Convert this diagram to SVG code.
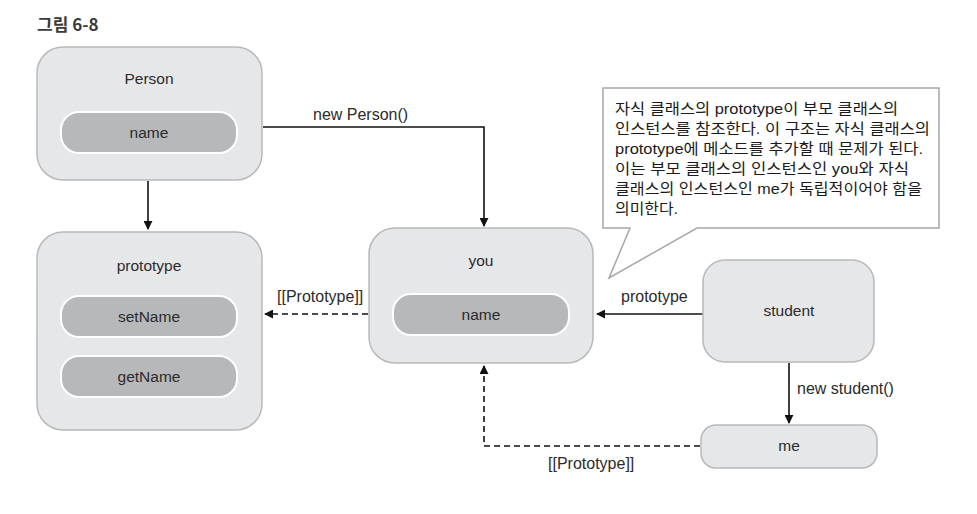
<svg xmlns="http://www.w3.org/2000/svg" width="977" height="514" viewBox="0 0 977 514">
<style>
.box{fill:#e6e7e8;stroke:#b8b9bb;stroke-width:1.5}
.pill{fill:#b7b8ba;stroke:#ffffff;stroke-width:2}
.t{font-family:"Liberation Sans",Arial,sans-serif;font-size:15.5px;fill:#2b2b2b;text-anchor:middle}
.lbl{font-family:"Liberation Sans",Arial,sans-serif;font-size:16px;fill:#2b2b2b}
.ln{fill:none;stroke:#111;stroke-width:1.6}
.dash{stroke-dasharray:6 4}
.kr{font-family:"Liberation Sans","Noto Sans CJK KR",sans-serif;font-size:15px;fill:#1a1a1a}
</style>
<defs>
<marker id="ah" viewBox="0 0 10 10" refX="9" refY="5" markerWidth="9" markerHeight="9" markerUnits="userSpaceOnUse" orient="auto">
<path d="M0,0 L10,5 L0,10 z" fill="#111"/>
</marker>
</defs>
<text x="37" y="31" style="font-family:'Noto Sans CJK KR','Liberation Sans',sans-serif;font-size:17px;font-weight:bold;fill:#3a3a3a">그림 6-8</text>

<g id="connectors">
<path class="ln" d="M148,181 V229" marker-end="url(#ah)"/>
<path class="ln" d="M263,127 H484 V226" marker-end="url(#ah)"/>
<text class="lbl" x="313" y="120">new Person()</text>
<path class="ln dash" d="M368,314 H265" marker-end="url(#ah)"/>
<text class="lbl" x="277" y="302">[[Prototype]]</text>
<path class="ln" d="M703,314 H597" marker-end="url(#ah)"/>
<text class="lbl" x="621" y="302">prototype</text>
<path class="ln" d="M789,363 V423" marker-end="url(#ah)"/>
<text class="lbl" x="797" y="394">new student()</text>
<path class="ln dash" d="M700,446 H484 V366" marker-end="url(#ah)"/>
<text class="lbl" x="548" y="469">[[Prototype]]</text>
</g>

<g id="person">
<rect class="box" x="37" y="47" width="225" height="133" rx="26"/>
<text class="t" x="149" y="84">Person</text>
<rect class="pill" x="61" y="112" width="176" height="41" rx="18"/>
<text class="t" x="149" y="138">name</text>
</g>

<g id="prototype">
<rect class="box" x="37" y="232" width="225" height="198" rx="26"/>
<text class="t" x="149" y="271">prototype</text>
<rect class="pill" x="61" y="296" width="176" height="41" rx="18"/>
<text class="t" x="149" y="322">setName</text>
<rect class="pill" x="61" y="356" width="176" height="41" rx="18"/>
<text class="t" x="149" y="382">getName</text>
</g>

<g id="you">
<rect class="box" x="369" y="228" width="224" height="135" rx="26"/>
<text class="t" x="481" y="266">you</text>
<rect class="pill" x="393" y="294" width="176" height="41" rx="18"/>
<text class="t" x="481" y="320">name</text>
</g>

<g id="student">
<rect class="box" x="703" y="260" width="171" height="102" rx="22"/>
<text class="t" x="789" y="316">student</text>
</g>

<g id="me">
<rect class="box" x="701" y="425" width="176" height="43" rx="15"/>
<text class="t" x="789" y="451">me</text>
</g>

<g id="callout">
<path d="M603,88 H939 V228 H697 L609,278 L630,228 H603 Z" fill="#ffffff" stroke="#a6a7a9" stroke-width="1.5"/>
<text class="kr" x="615" y="114" textLength="283" lengthAdjust="spacingAndGlyphs">자식 클래스의 prototype이 부모 클래스의</text>
<text class="kr" x="615" y="134" textLength="315" lengthAdjust="spacingAndGlyphs">인스턴스를 참조한다. 이 구조는 자식 클래스의</text>
<text class="kr" x="615" y="154" textLength="308" lengthAdjust="spacingAndGlyphs">prototype에 메소드를 추가할 때 문제가 된다.</text>
<text class="kr" x="615" y="174" textLength="294" lengthAdjust="spacingAndGlyphs">이는 부모 클래스의 인스턴스인 you와 자식</text>
<text class="kr" x="615" y="194" textLength="307" lengthAdjust="spacingAndGlyphs">클래스의 인스턴스인 me가 독립적이어야 함을</text>
<text class="kr" x="615" y="214" textLength="63" lengthAdjust="spacingAndGlyphs">의미한다.</text>
</g>
</svg>
